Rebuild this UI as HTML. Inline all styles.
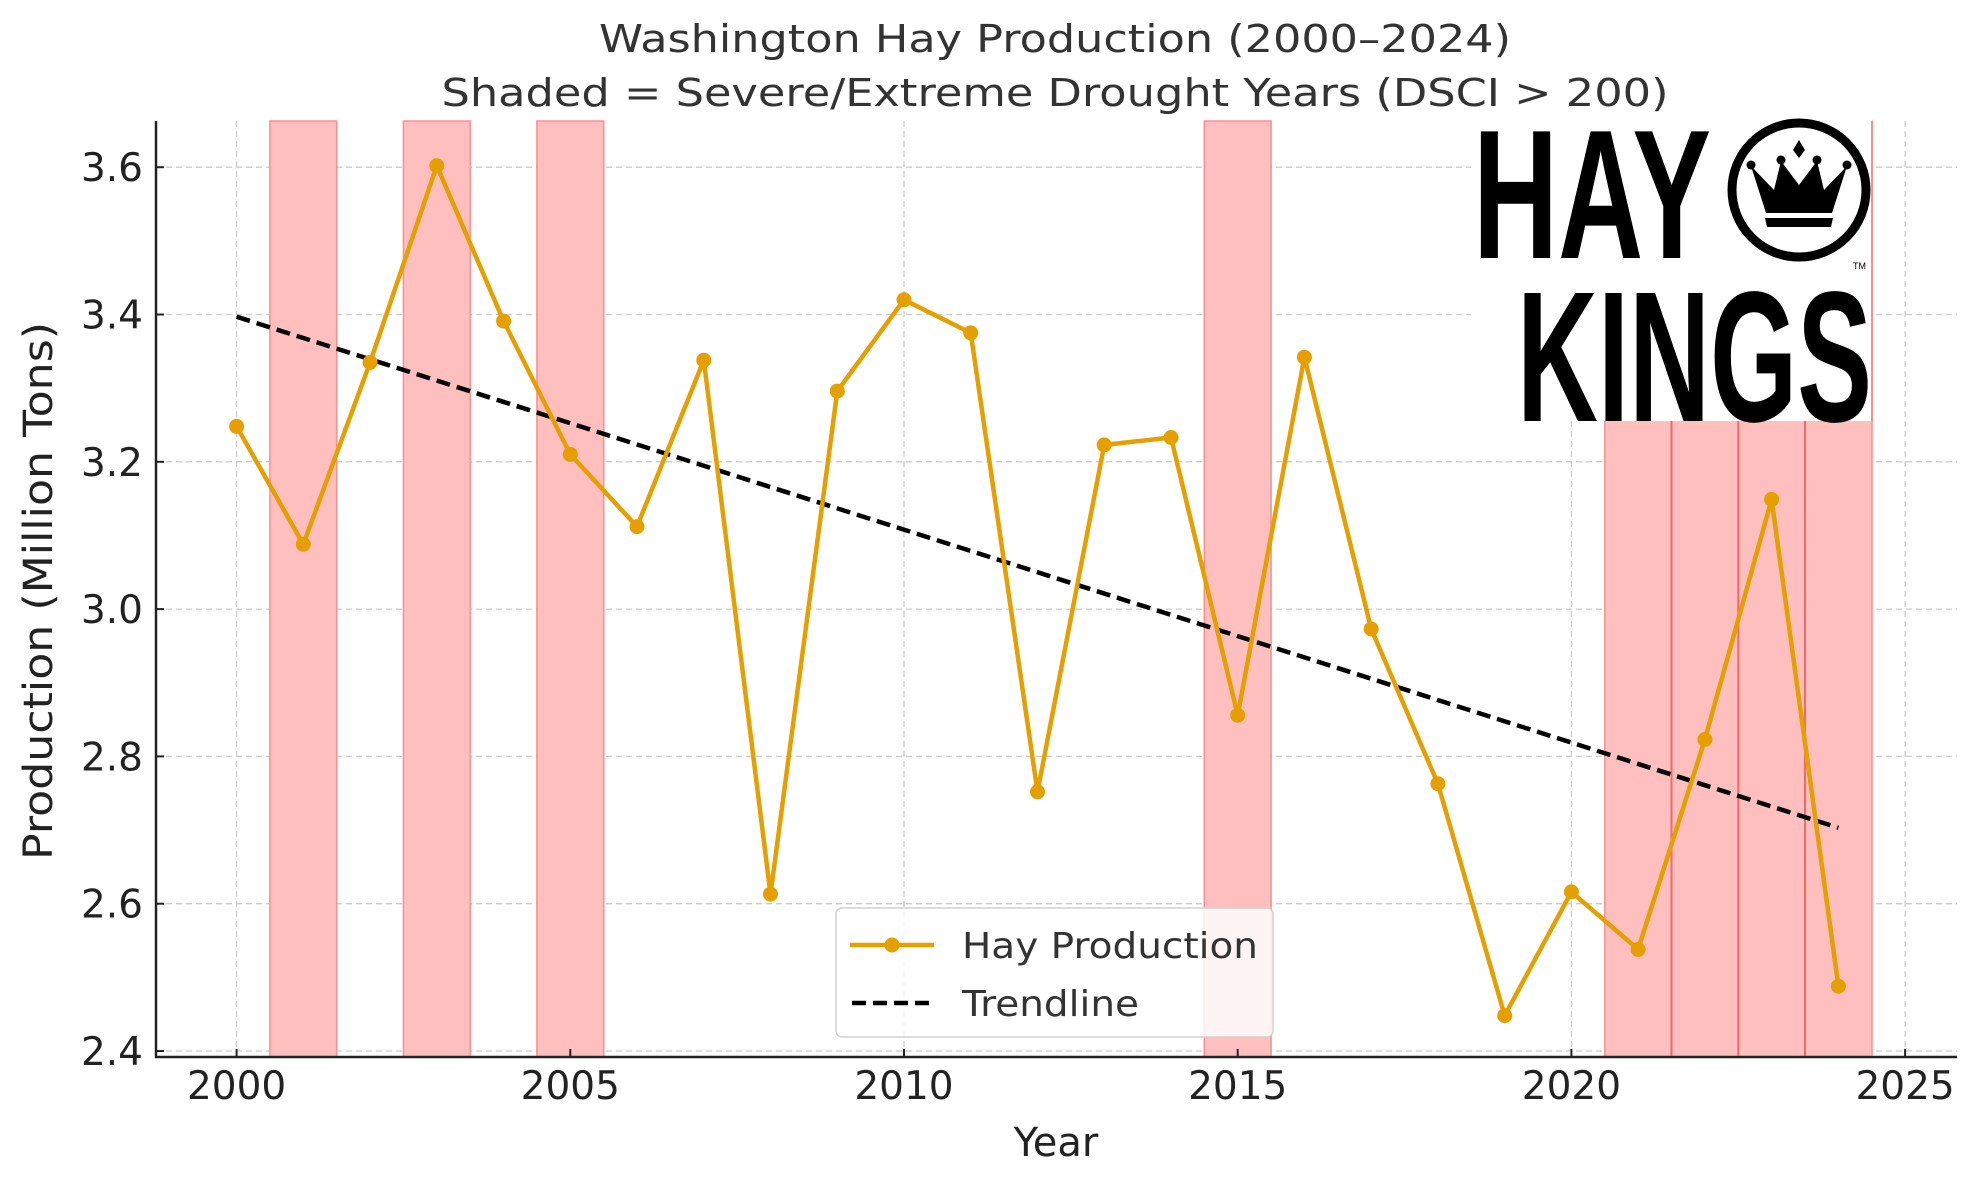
<!DOCTYPE html>
<html><head><meta charset="utf-8"><style>html,body{margin:0;padding:0;background:#fff}svg{display:block}</style></head>
<body>
<svg width="1973" height="1180" viewBox="0 0 1973 1180" xmlns="http://www.w3.org/2000/svg" font-family="'DejaVu Sans','Liberation Sans',sans-serif">
<rect width="1973" height="1180" fill="#fff"/>
<g stroke="#cccccc" stroke-width="1.3" stroke-dasharray="6,4">
<line x1="236.6" y1="121" x2="236.6" y2="1057"/><line x1="570.3" y1="121" x2="570.3" y2="1057"/><line x1="904" y1="121" x2="904" y2="1057"/><line x1="1237.7" y1="121" x2="1237.7" y2="1057"/><line x1="1571.4" y1="121" x2="1571.4" y2="1057"/><line x1="1905.1" y1="121" x2="1905.1" y2="1057"/>
<line x1="156" y1="1051" x2="1957" y2="1051"/><line x1="156" y1="903.7" x2="1957" y2="903.7"/><line x1="156" y1="756.4" x2="1957" y2="756.4"/><line x1="156" y1="609.1" x2="1957" y2="609.1"/><line x1="156" y1="461.8" x2="1957" y2="461.8"/><line x1="156" y1="314.5" x2="1957" y2="314.5"/><line x1="156" y1="167.2" x2="1957" y2="167.2"/>
</g>
<g fill="#ffbfbf" stroke="#f89090" stroke-width="1.5">
<rect x="269.9" y="121" width="66.8" height="936"/><rect x="403.4" y="121" width="66.8" height="936"/><rect x="536.9" y="121" width="66.8" height="936"/><rect x="1204.3" y="121" width="66.8" height="936"/>
</g>
<rect x="1604.8" y="121" width="267.2" height="936" fill="#ffbfbf" stroke="#f89090" stroke-width="1.5"/>
<g stroke="#f06a6a" stroke-width="2"><line x1="1671.5" y1="121" x2="1671.5" y2="1057"/><line x1="1738.3" y1="121" x2="1738.3" y2="1057"/><line x1="1805" y1="121" x2="1805" y2="1057"/></g>
<!-- logo -->
<rect x="1471" y="114" width="401" height="307" fill="#fff"/>
<g font-family="'Liberation Sans',sans-serif" font-weight="bold" fill="#000">
<text x="1473" y="258" font-size="184" textLength="238" lengthAdjust="spacingAndGlyphs">HAY</text>
<text x="1517" y="421" font-size="186" textLength="355" lengthAdjust="spacingAndGlyphs">KINGS</text>
<text x="1853" y="269" font-size="9" font-weight="normal">TM</text>
</g>
<circle cx="1799" cy="190" r="67" fill="none" stroke="#000" stroke-width="9"/>
<path d="M1751 166 L1766 213 L1832 213 L1847 166 L1824 190 L1817 161 L1799 185 L1781 161 L1774 190 Z" fill="#000"/>
<circle cx="1751" cy="165" r="4.5"/><circle cx="1781" cy="160" r="4.5"/><circle cx="1817" cy="160" r="4.5"/><circle cx="1847" cy="165" r="4.5"/><path d="M1799 140 L1805 150 L1799 158 L1793 150 Z"/>
<path d="M1765 218 L1833 218 L1831 227 L1767 227 Z" fill="#000"/>
<line x1="1872" y1="121" x2="1872" y2="421" stroke="#f89090" stroke-width="2"/>
<!-- trend -->
<line x1="236.6" y1="316.7" x2="1838.4" y2="827.8" stroke="#000" stroke-width="4.5" stroke-dasharray="14,7"/>
<polyline fill="none" stroke="#e69f00" stroke-width="4.5" stroke-linejoin="round" points="236.6,426.4 303.3,544.3 370.1,362.4 436.8,165.7 503.6,321.1 570.3,454.4 637,526.6 703.8,360.2 770.5,894.1 837.3,391.1 904,299.8 970.7,332.9 1037.5,791.8 1104.2,444.9 1171,437.5 1237.7,715.2 1304.4,357.2 1371.2,629 1437.9,783.7 1504.7,1015.6 1571.4,891.9 1638.1,949.4 1704.9,739.5 1771.6,499.4 1838.4,986.2"/>
<g fill="#e69f00">
<circle cx="236.6" cy="426.4" r="7.5"/><circle cx="303.3" cy="544.3" r="7.5"/><circle cx="370.1" cy="362.4" r="7.5"/><circle cx="436.8" cy="165.7" r="7.5"/><circle cx="503.6" cy="321.1" r="7.5"/><circle cx="570.3" cy="454.4" r="7.5"/><circle cx="637" cy="526.6" r="7.5"/><circle cx="703.8" cy="360.2" r="7.5"/><circle cx="770.5" cy="894.1" r="7.5"/><circle cx="837.3" cy="391.1" r="7.5"/><circle cx="904" cy="299.8" r="7.5"/><circle cx="970.7" cy="332.9" r="7.5"/><circle cx="1037.5" cy="791.8" r="7.5"/><circle cx="1104.2" cy="444.9" r="7.5"/><circle cx="1171" cy="437.5" r="7.5"/><circle cx="1237.7" cy="715.2" r="7.5"/><circle cx="1304.4" cy="357.2" r="7.5"/><circle cx="1371.2" cy="629" r="7.5"/><circle cx="1437.9" cy="783.7" r="7.5"/><circle cx="1504.7" cy="1015.6" r="7.5"/><circle cx="1571.4" cy="891.9" r="7.5"/><circle cx="1638.1" cy="949.4" r="7.5"/><circle cx="1704.9" cy="739.5" r="7.5"/><circle cx="1771.6" cy="499.4" r="7.5"/><circle cx="1838.4" cy="986.2" r="7.5"/>
</g>
<!-- legend -->
<rect x="836" y="908" width="437" height="129" rx="6" fill="#fff" fill-opacity="0.82" stroke="#d0d0d0" stroke-width="1.5"/>
<line x1="850" y1="945" x2="934" y2="945" stroke="#e69f00" stroke-width="4.5"/><circle cx="892" cy="945" r="7.5" fill="#e69f00"/>
<line x1="852" y1="1003" x2="934" y2="1003" stroke="#000" stroke-width="4.5" stroke-dasharray="14,7"/>
<text x="962" y="958" font-size="36" fill="#333" textLength="296" lengthAdjust="spacingAndGlyphs">Hay Production</text>
<text x="962" y="1016" font-size="36" fill="#333" textLength="177" lengthAdjust="spacingAndGlyphs">Trendline</text>
<!-- axes -->
<line x1="156" y1="121" x2="156" y2="1058" stroke="#222" stroke-width="2.5"/>
<line x1="155" y1="1057" x2="1957" y2="1057" stroke="#222" stroke-width="2.5"/>
<g stroke="#222" stroke-width="2">
<line x1="156" y1="1051" x2="164" y2="1051"/><line x1="156" y1="903.7" x2="164" y2="903.7"/><line x1="156" y1="756.4" x2="164" y2="756.4"/><line x1="156" y1="609.1" x2="164" y2="609.1"/><line x1="156" y1="461.8" x2="164" y2="461.8"/><line x1="156" y1="314.5" x2="164" y2="314.5"/><line x1="156" y1="167.2" x2="164" y2="167.2"/>
<line x1="236.6" y1="1057" x2="236.6" y2="1049"/><line x1="570.3" y1="1057" x2="570.3" y2="1049"/><line x1="904" y1="1057" x2="904" y2="1049"/><line x1="1237.7" y1="1057" x2="1237.7" y2="1049"/><line x1="1571.4" y1="1057" x2="1571.4" y2="1049"/><line x1="1905.1" y1="1057" x2="1905.1" y2="1049"/>
</g>
<g font-size="39" fill="#222" text-anchor="end">
<text x="143" y="1065">2.4</text><text x="143" y="917.7">2.6</text><text x="143" y="770.4">2.8</text><text x="143" y="623.1">3.0</text><text x="143" y="475.8">3.2</text><text x="143" y="328.5">3.4</text><text x="143" y="181.2">3.6</text>
</g>
<g font-size="39" fill="#222" text-anchor="middle">
<text x="236.6" y="1099">2000</text><text x="570.3" y="1099">2005</text><text x="904" y="1099">2010</text><text x="1237.7" y="1099">2015</text><text x="1571.4" y="1099">2020</text><text x="1905.1" y="1099">2025</text>
</g>
<text x="1056" y="1156" font-size="40" fill="#222" text-anchor="middle">Year</text>
<text transform="translate(52,591) rotate(-90)" font-size="40" fill="#222" text-anchor="middle" textLength="538" lengthAdjust="spacingAndGlyphs">Production (Million Tons)</text>
<text x="1055" y="52" font-size="38" fill="#333" text-anchor="middle" textLength="912" lengthAdjust="spacingAndGlyphs">Washington Hay Production (2000–2024)</text>
<text x="1055" y="106" font-size="38" fill="#333" text-anchor="middle" textLength="1227" lengthAdjust="spacingAndGlyphs">Shaded = Severe/Extreme Drought Years (DSCI &gt; 200)</text>
</svg>
</body></html>
